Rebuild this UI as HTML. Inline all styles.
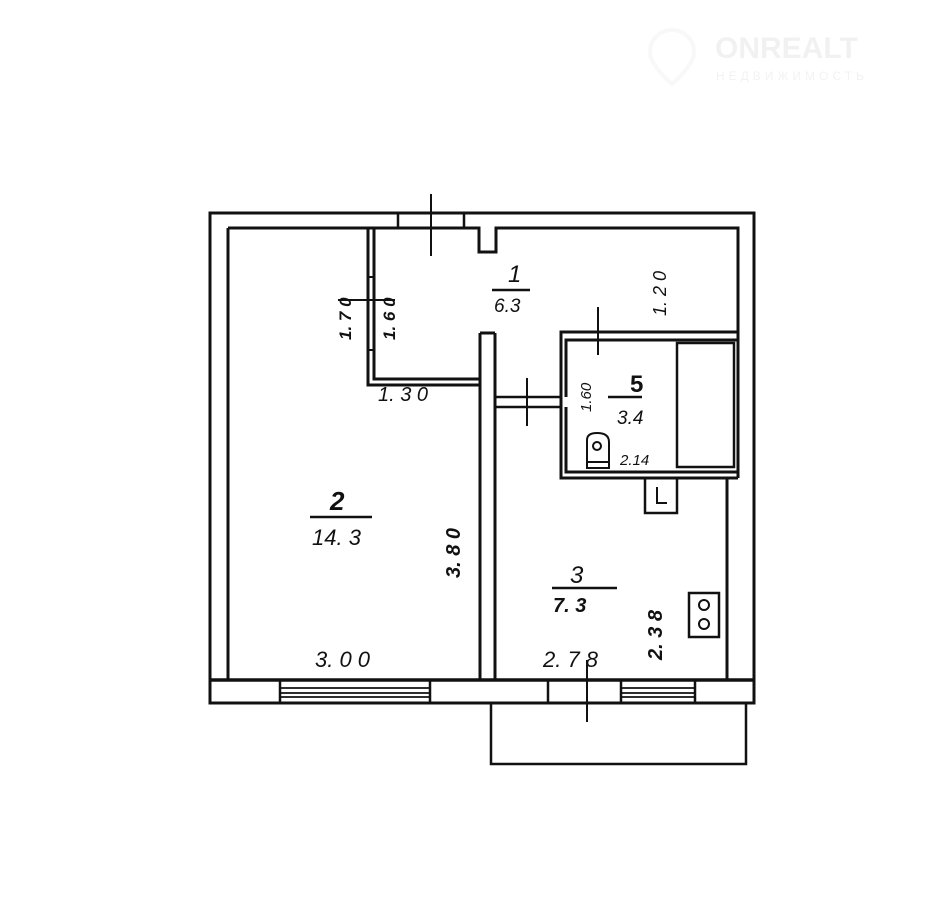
<!DOCTYPE html>
<html><head><meta charset="utf-8"><style>
html,body{margin:0;padding:0;background:#fff;}
svg{display:block}
text{font-family:"Liberation Sans",sans-serif;font-style:italic;fill:#111;}
</style></head><body>
<svg width="939" height="910" viewBox="0 0 939 910" xmlns="http://www.w3.org/2000/svg">
<rect width="939" height="910" fill="#fff"/>
<!-- watermark -->
<g opacity="0.05" fill="#888">
<path d="M672 30 a22 22 0 0 1 22 22 c0 14 -22 32 -22 32 c0 0 -22 -18 -22 -32 a22 22 0 0 1 22 -22z" fill="none" stroke="#888" stroke-width="4"/>
<text x="715" y="58" font-size="30" font-weight="bold" style="font-style:normal" fill="#888">ONREALT</text>
<text x="716" y="80" font-size="12" style="font-style:normal;letter-spacing:4px" fill="#888">НЕДВИЖИМОСТЬ</text>
</g>
<g fill="none" stroke="#111" stroke-width="3">
<!-- outer wall -->
<rect x="210" y="213" width="544" height="490"/>
<!-- door frame top -->
<path d="M398 213 V228 M464 213 V228" stroke-width="2.5"/>
<!-- inner top -->
<path d="M228 228 H479 V252 H496 V228 H738 V333"/>
<!-- inner left -->
<path d="M228 228 V680"/>
<!-- bottom wall inner line -->
<path d="M210 680 H754" stroke-width="3.5"/>
<!-- closet walls -->
<path d="M368 228 V385 H480 M374 228 V379 H480"/>
<!-- central wall -->
<path d="M480 333 V680 M495 333 V680 M480 333 H495"/>
<!-- bath walls -->
<path d="M561 397 V478 H738 M566 407 V472 H738 M561 397 V332 H738 M566 397 V340 H738"/>
<path d="M496 397 H561 M496 407 H561" stroke-width="2.5"/>
<!-- tub -->
<rect x="677" y="343" width="57" height="124" stroke-width="2.5"/>
<!-- right walls -->
<path d="M738 228 V478 M727 478 V680"/>
<!-- toilet -->
<path d="M587 468 V440 Q587 433 597 433 Q609 433 609 442 V468 Z" stroke-width="2"/>
<path d="M587 462 H609" stroke-width="2"/>
<circle cx="597" cy="446" r="4" stroke-width="2"/>
<!-- sink box -->
<rect x="645" y="478" width="32" height="35" stroke-width="2.5"/>
<path d="M657 487 V503 H667" stroke-width="2"/>
<!-- stove -->
<rect x="689" y="593" width="30" height="44" stroke-width="2.5"/>
<circle cx="704" cy="605" r="5" stroke-width="2"/>
<circle cx="704" cy="624" r="5" stroke-width="2"/>
<!-- bottom openings -->
<path d="M280 680 V703 M430 680 V703 M548 680 V703 M621 680 V703 M695 680 V703" stroke-width="2.5"/>
<path d="M280 688 H430 M280 693 H430 M280 697 H430 M621 688 H695 M621 693 H695 M621 697 H695" stroke-width="1.8"/>
<!-- balcony -->
<path d="M491 703 V764 H746 V703" stroke-width="2.5"/>
<!-- door marks -->
<path d="M431 194 V256 M598 307 V355 M527 378 V426 M587 660 V722 M374 277 H368 M374 350 H368" stroke-width="2"/>
</g>
<path d="M338 300 H395" stroke="#111" stroke-width="2"/>
<!-- room labels -->
<g stroke="#111" stroke-width="2.5">
<path d="M492 290 H530 M310 517 H372 M552 588 H617 M608 397 H642"/>
</g>
<text x="508" y="282" font-size="24">1</text>
<text x="494" y="312" font-size="19">6.3</text>
<text x="330" y="510" font-size="26" font-weight="bold">2</text>
<text x="312" y="545" font-size="22">14. 3</text>
<text x="570" y="583" font-size="24">3</text>
<text x="553" y="612" font-size="20" font-weight="bold">7. 3</text>
<text x="630" y="392" font-size="24" font-weight="bold" style="font-style:normal">5</text>
<text x="617" y="424" font-size="19">3.4</text>
<text x="620" y="465" font-size="15" font-family="Liberation Serif">2.14</text>
<text x="378" y="401" font-size="20">1. 3 0</text>
<text x="315" y="667" font-size="22">3. 0 0</text>
<text x="543" y="667" font-size="22">2. 7 8</text>
<text transform="translate(351,340) rotate(-90)" font-size="17" font-weight="bold">1. 7 0</text>
<text transform="translate(395,340) rotate(-90)" font-size="17" font-weight="bold">1. 6 0</text>
<text transform="translate(666,316) rotate(-90)" font-size="18">1. 2 0</text>
<text transform="translate(591,412) rotate(-90)" font-size="15" font-family="Liberation Serif">1.60</text>
<text transform="translate(460,578) rotate(-90)" font-size="20" font-weight="bold">3. 8 0</text>
<text transform="translate(662,660) rotate(-90)" font-size="20" font-weight="bold">2. 3 8</text>
</svg>
</body></html>
